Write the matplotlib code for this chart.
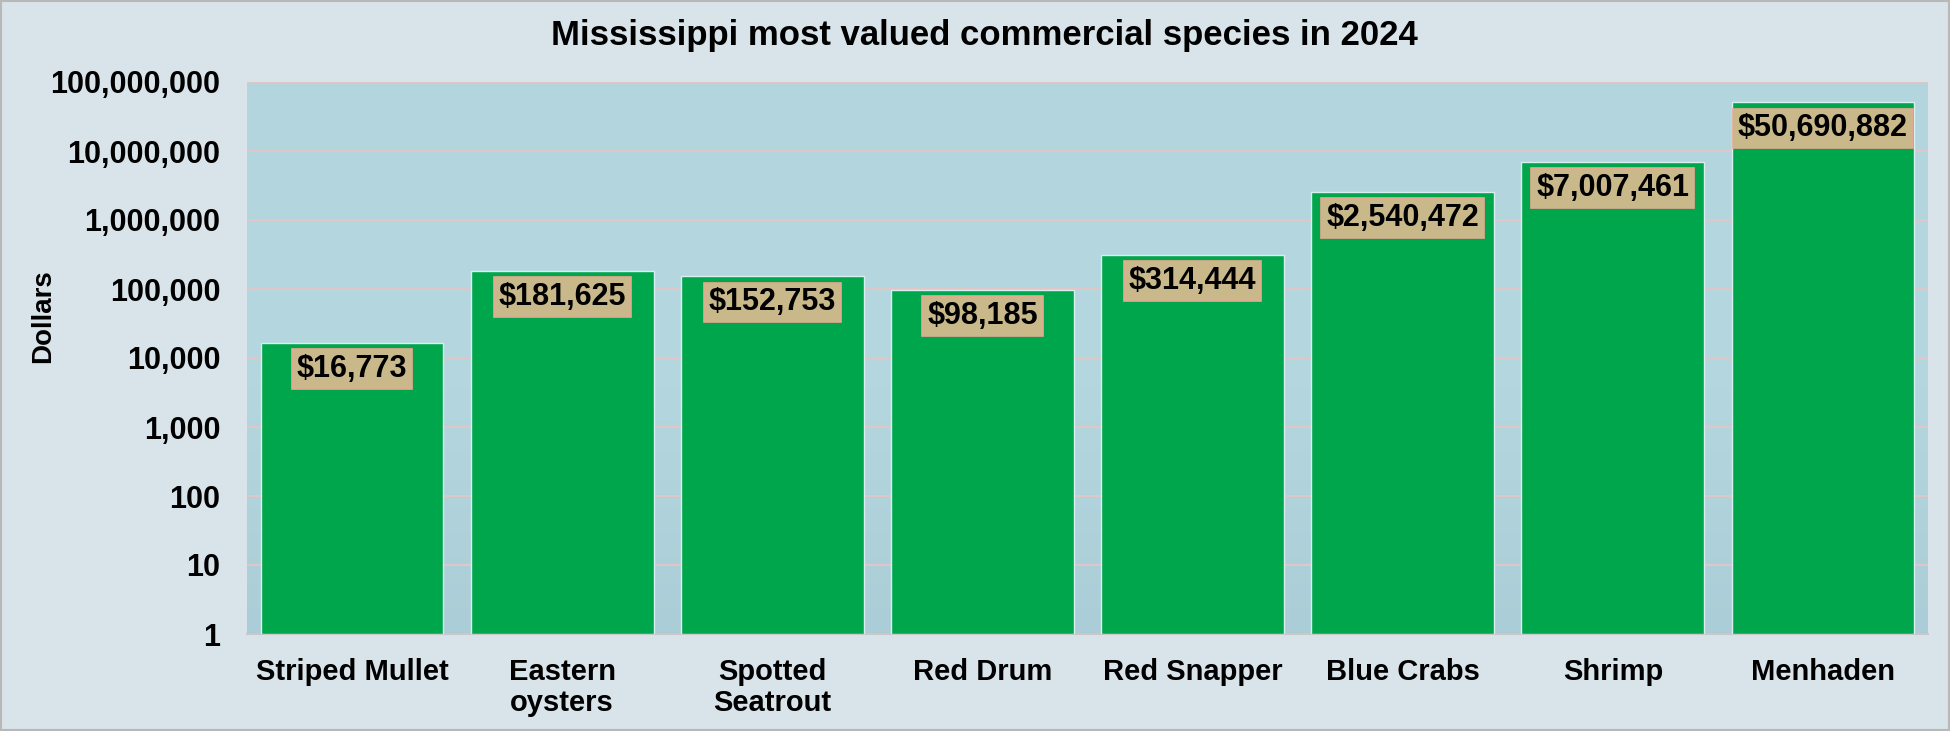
import numpy as np
import matplotlib.pyplot as plt
from matplotlib import font_manager
from matplotlib.ticker import FixedLocator, FuncFormatter

species = ["Striped Mullet", "Eastern\noysters", "Spotted\nSeatrout", "Red Drum",
           "Red Snapper", "Blue Crabs", "Shrimp", "Menhaden"]
values = [16773, 181625, 152753, 98185, 314444, 2540472, 7007461, 50690882]
y_ticks = [1, 10, 100, 1000, 10000, 100000, 1000000, 10000000, 100000000]

names = {f.name for f in font_manager.fontManager.ttflist}
narrow = "Liberation Sans Narrow" in names
font = "Liberation Sans Narrow" if narrow else "Liberation Sans"
plt.rcParams["font.family"] = [font, "DejaVu Sans"]
plt.rcParams["font.weight"] = "bold"

fig = plt.figure(figsize=(19.5, 7.31), dpi=100, facecolor="#d9e4ea")
ax = fig.add_axes([247 / 1950, 1 - 634 / 731, (1928 - 247) / 1950, (634 - 82) / 731])
ax.set_facecolor("#aed0da")

# soft vertical gradient in the plot area
grad = np.linspace(0, 1, 256).reshape(-1, 1)
ax.imshow(grad, extent=[0, 1, 0, 1], transform=ax.transAxes, aspect="auto",
          cmap=plt.matplotlib.colors.LinearSegmentedColormap.from_list(
              "bg", ["#b3d6de", "#b5d8e0", "#aacdd7"]),
          zorder=0)

x = np.arange(len(species))
ax.bar(x, values, width=0.87, color="#00a64c", edgecolor="#d8eef0", linewidth=1.0,
       zorder=3, bottom=1)

for xi, v in zip(x, values):
    ax.annotate("${:,}".format(v), xy=(xi, v), xytext=(0, -8), textcoords="offset points",
                ha="center", va="top", fontsize=22, fontweight="bold", color="black",
                zorder=5,
                bbox=dict(boxstyle="square,pad=0.16", facecolor="#c8b88a",
                          edgecolor="#e8a890", linewidth=1.2))

ax.set_yscale("log")
ax.set_ylim(1, 100000000)
ax.set_xlim(-0.5, len(species) - 0.5)
ax.yaxis.set_major_locator(FixedLocator(y_ticks))
ax.yaxis.set_minor_locator(FixedLocator([]))
ax.yaxis.set_major_formatter(FuncFormatter(lambda v, p: "{:,}".format(int(round(v)))))
ax.grid(axis="y", color="#e0c6c6", linewidth=1.5, zorder=1)
ax.set_axisbelow(True)

ax.set_xticks(x)
ax.set_xticklabels(species, fontsize=21, fontweight="bold", linespacing=1.14)
ax.tick_params(axis="x", length=0, pad=17)
ax.tick_params(axis="y", length=0, pad=19, labelsize=22)
for lbl in ax.get_yticklabels():
    lbl.set_fontweight("bold")

for side in ["top", "right", "left"]:
    ax.spines[side].set_visible(False)
ax.spines["bottom"].set_color("#c8c8c8")
ax.spines["bottom"].set_linewidth(1.5)

ax.set_ylabel("Dollars", fontsize=20, fontweight="bold", va="center")
ax.yaxis.set_label_coords((43 - 247) / 1681, (634 - 316) / 552)

fig.text(0.505, 0.952, "Mississippi most valued commercial species in 2024", fontsize=25,
         fontweight="bold", ha="center", va="center")

fig.patches.append(plt.Rectangle((0, 0), 1, 1, transform=fig.transFigure, fill=False,
                                 edgecolor="#b8b8b8", linewidth=3))

fig.savefig("out.png", dpi=100, facecolor=fig.get_facecolor())
